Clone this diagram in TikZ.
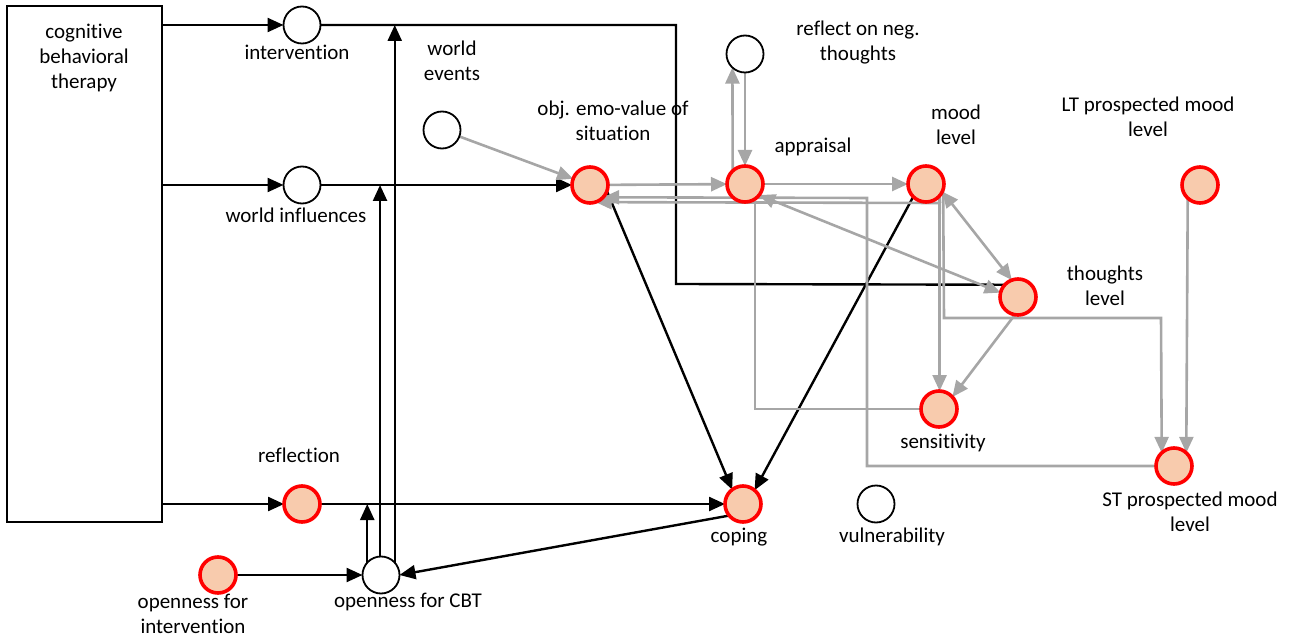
\documentclass[tikz,border=0pt]{standalone}
\usepackage{fontspec}
\setmainfont{Carlito}[Ligatures=NoCommon]
\usetikzlibrary{arrows.meta,backgrounds}
\definecolor{peach}{HTML}{F8CBAD}
\definecolor{linegrey}{HTML}{A6A6A6}

\begin{document}
\begin{tikzpicture}[x=1pt,y=-1pt,
  state/.style={circle,draw=red,line width=3.6pt,fill=peach,minimum size=36pt,inner sep=0pt,outer sep=0pt},
  plain/.style={circle,draw=black,line width=1.8pt,fill=white,minimum size=37pt,inner sep=0pt,outer sep=0pt},
  lbl/.style={font=\fontsize{21}{25}\selectfont,align=center,inner sep=0pt},
  blk/.style={draw=black,line width=2.4pt,-{Triangle[length=16pt,width=14pt]}},
  blkplain/.style={draw=black,line width=2.4pt},
  gry/.style={draw=linegrey,line width=2.6pt,-{Triangle[length=16pt,width=14pt]}},
  gryplain/.style={draw=linegrey,line width=2.6pt},
  grytwo/.style={draw=linegrey,line width=2.6pt,{Triangle[length=16pt,width=14pt]}-{Triangle[length=16pt,width=14pt]}}
]
\useasboundingbox (0,0) rectangle (1298,644);

% therapy box
\node[draw,line width=1.8pt,minimum width=155pt,minimum height=516pt,inner sep=0pt] (cbt) at (84.5,264) {};
\node[lbl] (cbtlabel) at (84,58) {cognitive\\behavioral\\therapy};

% state nodes
\node[plain] (interv)   at (302,25)  {};
\node[plain] (worldinf) at (302,185) {};
\node[plain] (worldev)  at (442,130) {};
\node[state] (objemo)   at (590,185) {};
\node[state] (appr)     at (745,184) {};
\node[plain] (reflneg)  at (745,54)  {};
\node[state] (mood)     at (926,184) {};
\node[state] (thoughts) at (1018,297) {};
\node[state] (sens)     at (939,409) {};
\node[state] (stpm)     at (1174,466) {};
\node[state] (ltpm)     at (1200,185) {};
\node[plain] (vuln)     at (876,504) {};
\node[state] (coping)   at (743,504) {};
\node[state] (refl)     at (302,504) {};
\node[state] (openint)  at (218,575) {};
\node[plain] (opencbt)  at (381,575) {};

% labels
\node[lbl] (l-interv)   at (297,52)   {intervention};
\node[lbl] (l-worldev)  at (452,61)   {world\\events};
\node[lbl] (l-objemo)   at (613,121)  {obj. emo-value of\\situation};
\node[lbl] (l-reflneg)  at (858,43)   {reflect on neg.\\thoughts};
\node[lbl] (l-appr)     at (813,147)  {appraisal};
\node[lbl] (l-mood)     at (956,125)  {mood\\level};
\node[lbl] (l-ltpm)     at (1148,117) {LT prospected mood\\level};
\node[lbl] (l-thoughts) at (1105,286) {thoughts\\level};
\node[lbl] (l-worldinf) at (296,215)  {world influences};
\node[lbl] (l-sens)     at (943,443)  {sensitivity};
\node[lbl] (l-stpm)     at (1190,512) {ST prospected mood\\level};
\node[lbl] (l-refl)     at (299,455)  {reflection};
\node[lbl] (l-coping)   at (739,537)  {coping};
\node[lbl] (l-vuln)     at (892,537)  {vulnerability};
\node[lbl] (l-openint)  at (193,614)  {openness for\\intervention};
\node[lbl] (l-opencbt)  at (408,602)  {openness for CBT};

% bend points of routed connectors
\coordinate (turnA) at (676,25);
\coordinate (turnB) at (676,284);
\coordinate (mb) at (940,203);
\coordinate (sl) at (755,409);
\coordinate (su) at (755,203);
\coordinate (pa) at (867,466);
\coordinate (pb) at (867,198);
\coordinate (qa) at (944,318);
\coordinate (qb) at (1161,318);

\begin{scope}[on background layer]
  % black connectors
  \draw[blk] (cbt.east |- interv) -- (interv);
  \draw[blk] (cbt.east |- worldinf) -- (worldinf);
  \draw[blk] (cbt.east |- refl) -- (refl);
  \draw[blkplain] (interv) -- (turnA) -- (turnB) -- (thoughts.137);
  \draw[blk] (worldinf) -- (objemo);
  \draw[blk] (refl) -- (coping);
  \draw[blk] (openint) -- (opencbt);
  \draw[blk] (objemo.-20) -- (coping.127);
  \draw[blk] (mood.-135) -- (coping.50);
  \draw[blk] (coping.-140) -- (opencbt.0);
  \draw[blk] (opencbt.138) -- (opencbt.138 |- refl.center);
  \draw[blk] (opencbt.93) -- (opencbt.93 |- worldinf.center);
  \draw[blk] (opencbt.42) -- (opencbt.42 |- interv.center);

  % grey connectors
  \draw[gry] (worldev) -- (objemo);
  \draw[gry] (objemo) -- (appr);
  \draw[gry] (appr) -- (mood);
  \draw[gry] (appr.133) -- (reflneg.-133);
  \draw[gry] (reflneg) -- (appr);
  \draw[grytwo] (appr.-38) -- (thoughts.166);
  \draw[grytwo] (mood.-25) -- (thoughts.110);
  \draw[gry] (thoughts.-100) -- (sens.42);
  \draw[gry] (mood.-41) -- (mood.-41 |- sens.north);
  \draw[gryplain] (mood.-41) -- (mb);
  \draw[gry] (mb) -- (objemo.-72);
  \draw[gryplain] (sens) -- (sl) -- (su);
  \draw[gry] (stpm) -- (pa) -- (pb) -- (objemo.-43);
  \draw[gry] (mood.-18) -- (qa) -- (qb) -- (stpm.133);
  \draw[gry] (ltpm.-133) -- (stpm.47);
\end{scope}
\end{tikzpicture}
\end{document}
